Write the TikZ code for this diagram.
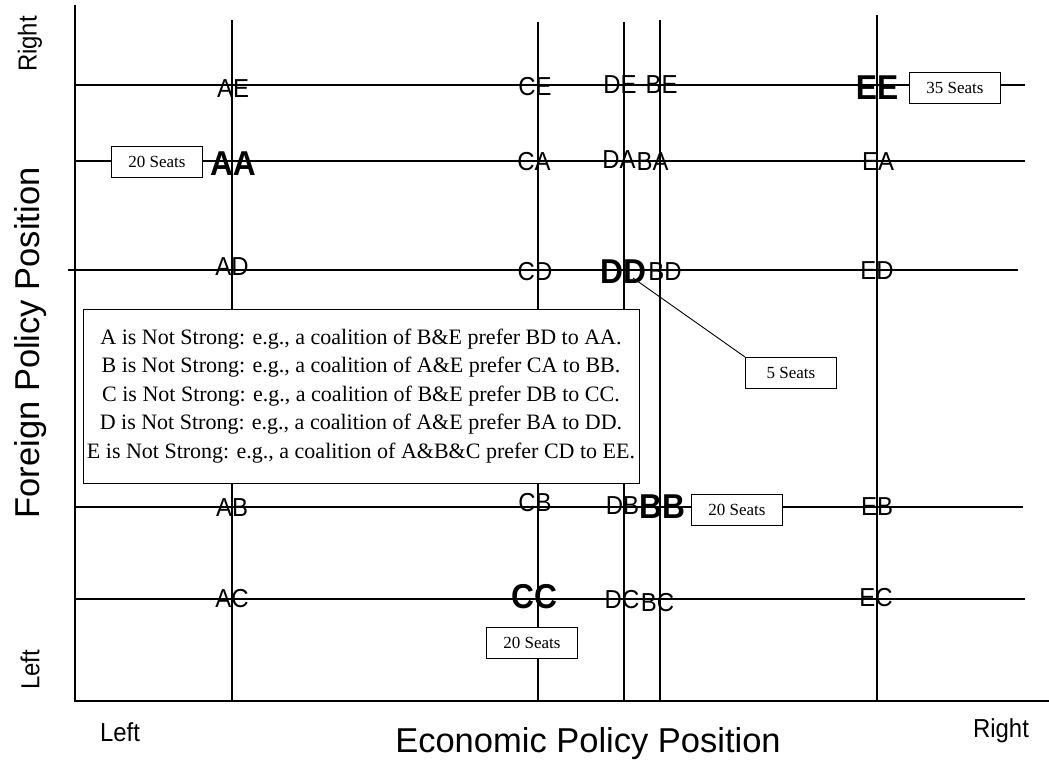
\documentclass[tikz,border=0pt]{standalone}
\usepackage{fontspec}
\setmainfont{Liberation Serif}
\newfontfamily\arialfont{Liberation Sans}
\newfontfamily\arialnarrow[FakeStretch=0.92]{Liberation Sans}
\begin{document}
\begin{tikzpicture}[x=1pt,y=-1pt,
  gridline/.style={line width=1.2pt},
  axisline/.style={line width=2.6pt},
  cell/.style={inner sep=0pt,font=\arialnarrow\fontsize{26}{26}\selectfont},
  ideal/.style={inner sep=0pt,font=\arialnarrow\bfseries\fontsize{34.5}{34.5}\selectfont},
  seats/.style={draw,fill=white,line width=0.9pt,inner sep=0pt,minimum width=91pt,minimum height=31pt,
    font=\fontsize{17}{17}\selectfont},
  axislabel/.style={inner sep=0pt,font=\arialnarrow\fontsize{26}{26}\selectfont},
  axistitle/.style={inner sep=0pt,font=\arialfont\fontsize{34.5}{34.5}\selectfont}]
\useasboundingbox (0,0) rectangle (1049,765);
\fill[white] (0,0) rectangle (1049,765);

% economic positions of the five parties (vertical lines)
\draw[gridline] (232,20) -- (232,701);
\draw[gridline] (538,22) -- (538,701);
\draw[gridline] (624,22) -- (624,701);
\draw[gridline] (660,20) -- (660,701);
\draw[gridline] (877,15) -- (877,701);

% foreign policy positions (horizontal lines)
\draw[gridline] (75,85) -- (1025,85);
\draw[gridline] (75,161) -- (1025,161);
\draw[gridline] (68,270) -- (1018,270);
\draw[gridline] (75,507) -- (1023,507);
\draw[gridline] (75,599) -- (1025,599);

% axes
\draw[axisline] (75,5) -- (75,701) -- (1049,701);

% row E
\node[cell] (AE) at (233,89) {AE};
\node[cell] (CE) at (535,87) {CE};
\node[cell] (DE) at (620,85) {DE};
\node[cell] (BE) at (661.5,85) {BE};
\node[ideal] (EE) at (877,88) {EE};
% row A
\node[ideal] (AA) at (233,164) {AA};
\node[cell] (CA) at (534,162) {CA};
\node[cell] (DA) at (619,160) {DA};
\node[cell] (BA) at (652.5,162) {BA};
\node[cell] (EA) at (878,162) {EA};
% row D
\node[cell] (AD) at (232,267) {AD};
\node[cell] (CD) at (535,272) {CD};
\node[ideal] (DD) at (623,272) {DD};
\node[cell] (BD) at (665,272) {BD};
\node[cell] (ED) at (877,271) {ED};
% row B
\node[cell] (AB) at (232,508) {AB};
\node[cell] (CB) at (535,503) {CB};
\node[cell] (DB) at (622.5,506) {DB};
\node[ideal] (BB) at (662,507) {BB};
\node[cell] (EB) at (877,507) {EB};
% row C
\node[cell] (AC) at (232,599) {AC};
\node[ideal] (CC) at (534,597) {CC};
\node[cell] (DC) at (622,600) {DC};
\node[cell] (BC) at (657.5,603) {BC};
\node[cell] (EC) at (876,598) {EC};

% seat shares
\node[seats] (sA) at (157,162) {20 Seats};
\node[seats] (sE) at (955,88) {35 Seats};
\node[seats] (sD) at (791,373) {5 Seats};
\node[seats] (sB) at (737,510) {20 Seats};
\node[seats] (sC) at (532,643) {20 Seats};
\draw[line width=0.9pt] ([shift={(10,6)}]DD.center) -- (sD.north west);

% explanation of why no party is strong
\node[draw,fill=white,line width=1pt,inner sep=0pt,minimum width=556pt,minimum height=174pt,
  align=center,font=\fontsize{22}{28.5}\selectfont] (note) at (361,396)
  {A is Not Strong: e.g., a coalition of B\&E prefer BD to AA.\\
   B is Not Strong: e.g., a coalition of A\&E prefer CA to BB.\\
   C is Not Strong: e.g., a coalition of B\&E prefer DB to CC.\\
   D is Not Strong: e.g., a coalition of A\&E prefer BA to DD.\\
   E is Not Strong: e.g., a coalition of A\&B\&C prefer CD to EE.};

% axis labels
\node[axislabel,rotate=90] (yr) at (30,44) {Right};
\node[axistitle,rotate=90] (yt) at (31,343) {Foreign Policy Position};
\node[axislabel,rotate=90] (yl) at (30,670) {Left};
\node[axislabel] (xl) at (120,732) {Left};
\node[axislabel] (xr) at (1001,731) {Right};
\node[axistitle] (xt) at (588,744) {Economic Policy Position};
\end{tikzpicture}
\end{document}
